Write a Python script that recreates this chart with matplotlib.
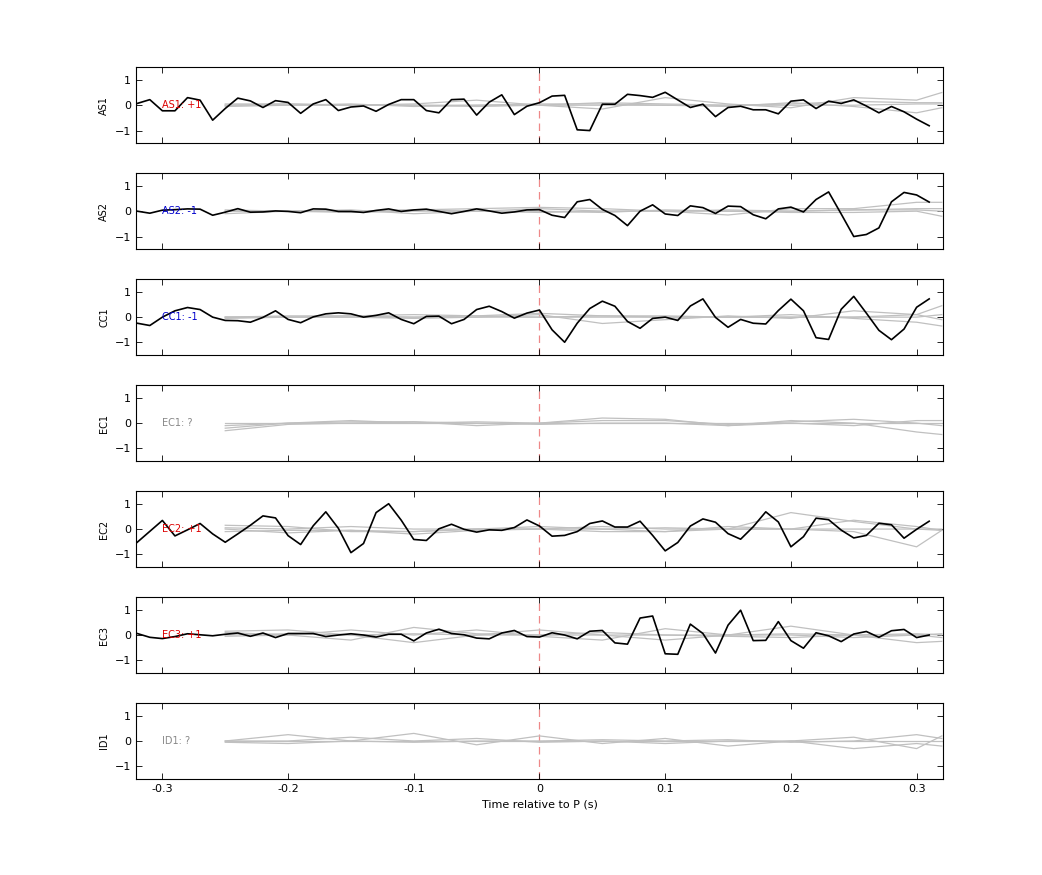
import numpy as np
import matplotlib
matplotlib.use("Agg")
import matplotlib.pyplot as plt

T = np.round(np.arange(-0.32, 0.315, 0.01), 2)  # 64 samples

AS1 = [0.07,0.22,-0.22,-0.22,0.30,0.20,-0.59,-0.13,0.28,0.17,-0.09,0.18,0.11,-0.32,0.05,0.22,
       -0.21,-0.07,-0.03,-0.24,0.03,0.22,0.22,-0.21,-0.30,0.22,0.24,-0.39,0.12,0.41,-0.37,-0.04,
       0.10,0.36,0.39,-0.97,-1.0,0.04,0.04,0.43,0.38,0.31,0.51,0.21,-0.09,0.04,-0.45,-0.09,
       -0.04,-0.18,-0.18,-0.34,0.16,0.21,-0.13,0.16,0.07,0.21,-0.03,-0.30,-0.05,-0.26,-0.55,-0.81]
AS2 = [0.0,-0.08,0.04,0.06,0.09,0.08,-0.16,-0.04,0.10,-0.04,-0.03,0.01,-0.01,-0.06,0.09,0.08,
       -0.01,-0.01,-0.05,0.03,0.09,-0.01,0.05,0.08,-0.01,-0.10,-0.01,0.09,0.01,-0.08,-0.03,0.05,
       0.06,-0.16,-0.25,0.37,0.46,0.07,-0.17,-0.57,0.0,0.25,-0.11,-0.17,0.21,0.14,-0.09,0.20,
       0.18,-0.14,-0.30,0.09,0.16,-0.03,0.46,0.76,-0.11,-1.0,-0.92,-0.66,0.37,0.74,0.64,0.36]
CC1 = [-0.24,-0.33,0.0,0.25,0.38,0.30,0.0,-0.13,-0.14,-0.20,-0.01,0.25,-0.09,-0.22,0.01,0.13,
       0.17,0.13,0.0,0.07,0.17,-0.09,-0.26,0.03,0.04,-0.26,-0.09,0.30,0.43,0.22,-0.04,0.16,
       0.28,-0.50,-0.99,-0.24,0.34,0.63,0.43,-0.17,-0.44,-0.05,0.0,-0.13,0.44,0.72,-0.01,-0.40,
       -0.09,-0.24,-0.27,0.26,0.71,0.25,-0.81,-0.88,0.31,0.82,0.16,-0.52,-0.89,-0.47,0.39,0.72]
EC2 = [-0.52,-0.09,0.34,-0.27,-0.03,0.22,-0.19,-0.52,-0.19,0.15,0.52,0.44,-0.26,-0.61,0.13,0.68,
       0.03,-0.93,-0.57,0.65,1.0,0.35,-0.41,-0.45,0.01,0.19,-0.01,-0.12,-0.03,-0.05,0.06,0.36,
       0.12,-0.28,-0.25,-0.10,0.22,0.32,0.08,0.08,0.31,-0.25,-0.86,-0.53,0.12,0.40,0.27,-0.18,
       -0.40,0.09,0.68,0.28,-0.70,-0.30,0.43,0.37,-0.04,-0.35,-0.25,0.23,0.17,-0.36,-0.01,0.31]
EC3 = [0.06,-0.09,-0.14,-0.06,0.05,0.01,-0.03,0.03,0.08,-0.05,0.08,-0.10,0.06,0.06,0.06,-0.06,
       0.0,0.05,0.0,-0.08,0.03,0.03,-0.23,0.08,0.23,0.06,0.01,-0.12,-0.15,0.08,0.18,-0.06,
       -0.08,0.09,0.0,-0.15,0.15,0.18,-0.31,-0.36,0.67,0.75,-0.74,-0.76,0.43,0.06,-0.71,0.39,
       0.98,-0.22,-0.21,0.53,-0.22,-0.52,0.09,-0.03,-0.26,0.04,0.14,-0.09,0.17,0.22,-0.10,0.0]

GT = [-0.25,-0.2,-0.15,-0.1,-0.05,0.0,0.05,0.1,0.15,0.2,0.25,0.3,0.32]
GRAY = {
 "AS1": [[0.0,0.0,0.0,0.0,0.0,0.0,0.0,0.0,0.0,0.0,0.0,0.05,0.05],
         [0.05,0.05,0.0,0.05,0.2,0.0,-0.15,0.3,0.05,-0.1,0.3,0.2,0.5],
         [-0.05,0.0,0.05,-0.05,0.0,0.05,0.05,0.0,-0.05,0.1,-0.05,-0.3,-0.1],
         [0.0,0.05,0.0,0.0,-0.05,0.0,0.1,0.05,0.0,0.05,0.15,0.1,0.1]],
 "AS2": [[0.0,0.0,0.05,-0.1,0.0,0.1,0.0,0.0,0.0,0.0,0.05,0.1,0.1],
         [0.05,0.0,0.0,0.05,0.1,0.15,0.1,0.0,-0.15,0.1,0.1,0.35,0.35],
         [-0.1,0.0,-0.05,0.0,0.0,0.0,-0.05,0.05,0.0,-0.05,-0.05,0.0,-0.2],
         [0.0,0.0,0.0,0.05,0.0,-0.05,0.0,0.0,0.05,0.0,0.05,0.05,0.0]],
 "CC1": [[0.0,0.05,0.05,0.1,0.05,0.15,0.05,0.0,0.0,0.0,0.0,0.1,0.45],
         [-0.05,0.0,0.0,-0.05,0.0,0.1,-0.25,-0.1,0.05,-0.05,0.25,0.1,-0.1],
         [0.0,0.0,0.05,0.0,0.05,0.0,0.05,0.05,0.0,0.1,-0.05,-0.2,-0.35],
         [0.0,0.0,0.0,0.0,0.0,0.0,0.0,0.0,0.0,0.0,0.0,0.0,0.1]],
 "EC1": [[0.0,0.0,0.0,0.0,0.0,0.0,0.0,0.0,0.0,0.0,0.0,0.0,0.0],
         [-0.2,0.0,0.1,0.0,0.05,0.0,0.2,0.15,-0.1,0.0,-0.1,0.1,0.1],
         [-0.3,-0.05,0.0,0.05,0.0,-0.05,0.0,0.0,-0.1,0.1,0.0,-0.35,-0.45],
         [-0.1,0.0,0.05,0.05,-0.1,0.0,0.1,0.1,-0.05,0.05,0.15,0.0,-0.1]],
 "EC2": [[0.15,0.1,-0.1,-0.1,0.0,0.0,0.1,0.0,0.0,0.0,0.0,0.0,-0.05],
         [0.0,-0.15,-0.05,-0.1,0.0,0.1,0.0,-0.1,0.0,0.65,0.3,0.0,0.0],
         [-0.1,-0.05,-0.05,-0.2,-0.05,0.0,-0.1,-0.1,0.1,0.0,-0.1,-0.7,-0.05],
         [0.05,0.0,0.1,0.0,0.0,0.0,0.0,0.05,0.0,0.0,0.35,0.1,-0.05]],
 "EC3": [[0.15,0.2,0.0,-0.3,0.0,0.2,0.0,-0.2,0.0,0.35,0.0,-0.3,-0.25],
         [0.1,0.0,0.2,0.0,0.2,-0.05,-0.2,0.25,0.0,0.0,-0.1,0.0,-0.1],
         [-0.05,0.0,-0.2,0.3,0.05,0.0,0.1,0.0,-0.05,-0.1,0.0,0.05,0.0],
         [0.0,0.05,0.0,0.05,0.0,0.0,0.0,0.0,0.0,0.05,0.0,0.0,0.05]],
 "ID1": [[0.0,0.25,0.0,0.3,-0.15,0.2,-0.1,0.1,-0.2,0.0,0.15,-0.3,0.2],
         [0.0,0.0,0.15,0.0,0.1,-0.05,0.0,-0.1,0.0,0.0,-0.3,-0.1,-0.2],
         [-0.05,-0.1,0.0,-0.05,0.0,0.0,0.05,0.0,0.05,-0.05,0.0,0.25,0.1],
         [0.0,0.0,0.0,0.0,0.0,0.0,0.0,0.0,0.0,0.0,0.0,0.0,0.0]],
}
PANELS = ["AS1","AS2","CC1","EC1","EC2","EC3","ID1"]
BLACK = {"AS1":AS1,"AS2":AS2,"CC1":CC1,"EC2":EC2,"EC3":EC3}
LABELS = {"AS1":("AS1: +1","#dd0000"),"AS2":("AS2: -1","#0000cc"),"CC1":("CC1: -1","#0000cc"),
          "EC1":("EC1: ?","#888888"),"EC2":("EC2: +1","#dd0000"),"EC3":("EC3: +1","#dd0000"),
          "ID1":("ID1: ?","#888888")}

fig = plt.figure(figsize=(10.42, 8.75), dpi=100)
left, width, h, step, bottom0 = 0.1305, 0.7745, 0.0869, 0.1211, 0.1097
for i, name in enumerate(PANELS):
    ax = fig.add_axes([left, bottom0 + (6 - i) * step, width, h])
    for g in GRAY[name]:
        ax.plot(GT, g, color="#c0c0c0", lw=0.9)
    if name in BLACK:
        ax.plot(T, BLACK[name], color="black", lw=1.2)
    ax.axvline(0, color="#ee8888", lw=0.9, ls=(0, (6, 4)), zorder=0)
    txt, col = LABELS[name]
    ax.text(-0.3, 0, txt, color=col, fontsize=7, va="center", ha="left")
    ax.set_xlim(-0.321, 0.321)
    ax.set_ylim(-1.5, 1.5)
    ax.set_yticks([-1, 0, 1])
    ax.set_xticks([-0.3, -0.2, -0.1, 0, 0.1, 0.2, 0.3])
    ax.tick_params(direction="in", top=True, right=True, labelsize=8, length=4, width=0.6)
    ax.set_ylabel(name, fontsize=7)
    for s in ax.spines.values():
        s.set_linewidth(0.8)
    if i < 6:
        ax.set_xticklabels([])
    else:
        ax.set_xticklabels(["-0.3", "-0.2", "-0.1", "0", "0.1", "0.2", "0.3"])
        ax.set_xlabel("Time relative to P (s)", fontsize=8)

fig.savefig("out.png", dpi=100)
